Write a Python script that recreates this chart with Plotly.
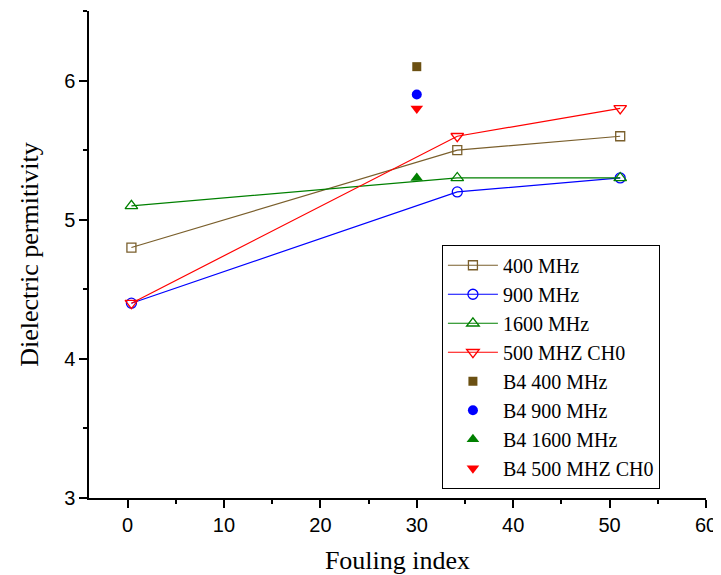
import plotly.graph_objects as go

# Data
x_lines = [0.4, 34.2, 51.1]
y_400 = [4.8, 5.5, 5.6]
y_900 = [4.4, 5.2, 5.3]
y_1600 = [5.1, 5.3, 5.3]
y_500ch0 = [4.4, 5.6, 5.8]

x_b4 = [30]
y_b4_400 = [6.1]
y_b4_900 = [5.9]
y_b4_1600 = [5.3]
y_b4_500ch0 = [5.8]

names = ["400 MHz", "900 MHz", "1600 MHz", "500 MHZ CH0",
         "B4 400 MHz", "B4 900 MHz", "B4 1600 MHz", "B4 500 MHZ CH0"]

x_ticks = [0, 10, 20, 30, 40, 50, 60]
x_minor = [5, 15, 25, 35, 45, 55]
y_ticks = [3, 4, 5, 6]
y_minor = [3.5, 4.5, 5.5, 6.5]

c_brown = "#7a5f2c"
c_brown_f = "#6b5012"
c_blue = "#0000ff"
c_green = "#008000"
c_red = "#ff0000"

fig = go.Figure()

line_series = [
    (y_400, names[0], c_brown, "square-open", 9),
    (y_900, names[1], c_blue, "circle-open", 10),
    (y_1600, names[2], c_green, "triangle-up-open", 11),
    (y_500ch0, names[3], c_red, "triangle-down-open", 11),
]
for ys, nm, col, sym, sz in line_series:
    fig.add_trace(go.Scatter(
        x=x_lines, y=ys, name=nm, mode="lines+markers",
        line=dict(color=col, width=1.2),
        marker=dict(symbol=sym, size=sz, color=col, line=dict(width=1.3, color=col)),
    ))

pt_series = [
    (y_b4_400, names[4], c_brown_f, "square", 9),
    (y_b4_900, names[5], c_blue, "circle", 10),
    (y_b4_1600, names[6], c_green, "triangle-up", 11),
    (y_b4_500ch0, names[7], c_red, "triangle-down", 11),
]
for ys, nm, col, sym, sz in pt_series:
    fig.add_trace(go.Scatter(
        x=x_b4, y=ys, name=nm, mode="markers",
        marker=dict(symbol=sym, size=sz, color=col, line=dict(width=0)),
    ))

axis_common = dict(
    showline=True, linecolor="black", linewidth=1.5,
    ticks="outside", ticklen=8, tickwidth=1.5, tickcolor="black",
    showgrid=False, zeroline=False, automargin=False,
    tickfont=dict(family="Liberation Sans, Arial", size=20, color="black"),
)

fig.update_xaxes(
    range=[-4, 60], tickmode="array", tickvals=x_ticks,
    minor=dict(tickvals=x_minor, ticks="outside", ticklen=4,
               tickwidth=1.5, tickcolor="black", showgrid=False),
    title=dict(text="Fouling index", font=dict(family="Liberation Serif, Times New Roman", size=26, color="black"),
               standoff=16),
    **axis_common,
)
fig.update_yaxes(
    range=[3, 6.5], tickmode="array", tickvals=y_ticks,
    minor=dict(tickvals=y_minor, ticks="outside", ticklen=4,
               tickwidth=1.5, tickcolor="black", showgrid=False),
    title=dict(text="Dielectric permitivity", font=dict(family="Liberation Serif, Times New Roman", size=26, color="black"),
               standoff=18),
    **axis_common,
)

# The page body has an 8px margin, so the figure is sized/offset to compensate
fig.update_layout(
    width=713, height=567,
    margin=dict(l=81, r=15, t=3, b=77, pad=0),
    plot_bgcolor="white", paper_bgcolor="white",
    legend=dict(
        x=0.572, y=0.52, xanchor="left", yanchor="top",
        bordercolor="black", borderwidth=1, bgcolor="white",
        font=dict(family="Liberation Serif, Times New Roman", size=20, color="black"),
        tracegroupgap=0, itemwidth=50,
    ),
    showlegend=True,
)

fig.write_html("out.html")
